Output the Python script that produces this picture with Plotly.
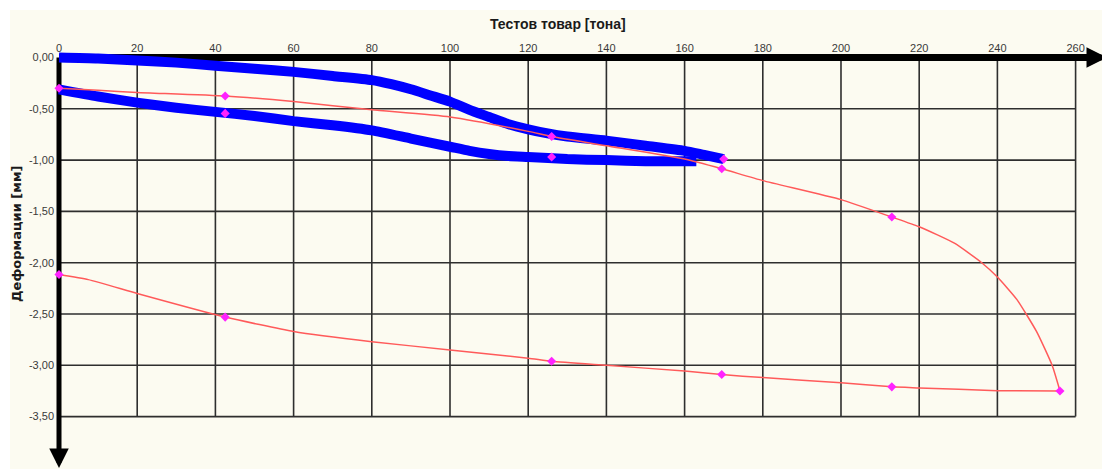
import plotly.graph_objects as go

# ---------------- data ----------------
x_ticks = [0, 20, 40, 60, 80, 100, 120, 140, 160, 180, 200, 220, 240, 260]
x_tick_labels = [str(v) for v in x_ticks]
y_ticks = [0.0, -0.5, -1.0, -1.5, -2.0, -2.5, -3.0, -3.5]
y_tick_labels = ["0,00", "-0,50", "-1,00", "-1,50", "-2,00", "-2,50", "-3,00", "-3,50"]

# loading branch (blue, upper)
load_x = [0, 10, 20, 30, 40, 50, 60, 70, 80, 85, 90, 95, 100, 105, 110, 115, 120, 125, 130, 140, 150, 160, 165, 170]
load_y = [0.0, -0.01, -0.03, -0.05, -0.08, -0.11, -0.14, -0.18, -0.22, -0.26, -0.31, -0.37, -0.43, -0.51,
          -0.58, -0.65, -0.70, -0.74, -0.77, -0.81, -0.86, -0.91, -0.95, -0.99]

# unloading branch (blue, lower)
unload_x = [163, 160, 150, 140, 130, 120, 115, 110, 105, 100, 90, 80, 70, 60, 50, 40, 30, 20, 10, 0]
unload_y = [-1.01, -1.01, -1.01, -1.0, -0.99, -0.97, -0.96, -0.94, -0.91, -0.87, -0.79, -0.71, -0.66,
            -0.62, -0.57, -0.53, -0.49, -0.44, -0.38, -0.31]

# red upper curve
red_up_x = [0, 10, 20, 42.5, 60, 80, 100, 120, 126, 140, 160, 169.5, 180, 200, 213, 220, 229, 236, 240, 245, 250, 254, 256]
red_up_y = [-0.30, -0.32, -0.34, -0.375, -0.43, -0.51, -0.58, -0.72, -0.77, -0.86, -0.99, -1.085, -1.20,
            -1.385, -1.555, -1.65, -1.81, -2.0, -2.14, -2.36, -2.67, -3.0, -3.25]

# red lower curve
red_lo_x = [0, 7.5, 20, 42.5, 60, 80, 100, 120, 126, 140, 160, 169.5, 180, 200, 213, 220, 240, 256]
red_lo_y = [-2.115, -2.165, -2.30, -2.53, -2.67, -2.77, -2.85, -2.93, -2.96, -3.0, -3.056, -3.09, -3.12,
            -3.17, -3.21, -3.22, -3.247, -3.25]

# measured points (magenta diamonds)
pts_up_x = [0, 42.5, 126, 169.5, 213, 256]
pts_up_y = [-0.30, -0.375, -0.77, -1.085, -1.555, -3.25]
pts_lo_x = [0, 42.5, 126, 169.5, 213]
pts_lo_y = [-2.115, -2.53, -2.96, -3.09, -3.21]
pts_blue_x = [42.5, 126, 170]
pts_blue_y = [-0.545, -0.97, -0.99]

x_title = "Тестов товар [тона]"
y_title = "Деформации [мм]"

# ---------------- layout geometry ----------------
OFF = 8                      # default page margin of the html body
W, H = 1110 - OFF, 469 - OFF
ML, MR, MT, MB = 53 - OFF, 0, 52 - OFF, 0
PW, PH = W - ML - MR, H - MT - MB
X_RANGE = [-1.535, 268.8]
Y_RANGE = [-4.0106, 0.0536]
CREAM = "#FCFBF1"
GRID = "#2e2e2e"


def px_to_paper_x(px):
    return (px - OFF - ML) / PW


def py_to_paper_y(py):
    return (H - MB - (py - OFF)) / PH


fig = go.Figure()

fig.add_trace(go.Scatter(x=load_x, y=load_y, mode="lines",
                         line=dict(color="#0000FF", width=10, shape="spline", smoothing=0.6),
                         showlegend=False, hoverinfo="skip"))
fig.add_trace(go.Scatter(x=unload_x, y=unload_y, mode="lines",
                         line=dict(color="#0000FF", width=10, shape="spline", smoothing=0.6),
                         showlegend=False, hoverinfo="skip"))
fig.add_trace(go.Scatter(x=red_up_x, y=red_up_y, mode="lines",
                         line=dict(color="#FF5A5A", width=1.5, shape="spline", smoothing=0.5),
                         showlegend=False))
fig.add_trace(go.Scatter(x=red_lo_x, y=red_lo_y, mode="lines",
                         line=dict(color="#FF5A5A", width=1.5, shape="spline", smoothing=0.5),
                         showlegend=False))
for mx, my in [(pts_up_x, pts_up_y), (pts_lo_x, pts_lo_y), (pts_blue_x, pts_blue_y)]:
    fig.add_trace(go.Scatter(x=mx, y=my, mode="markers",
                             marker=dict(symbol="diamond", size=7, color="#FF22FF"),
                             showlegend=False))

shapes = []
# cream background panel
shapes.append(dict(type="rect", xref="paper", yref="paper",
                   x0=px_to_paper_x(10), x1=1.01,
                   y0=-0.01, y1=py_to_paper_y(10),
                   fillcolor=CREAM, line=dict(width=0), layer="below"))
# grid
for xv in x_ticks[1:]:
    shapes.append(dict(type="line", xref="x", yref="y", x0=xv, x1=xv, y0=y_ticks[0], y1=y_ticks[-1],
                       line=dict(color=GRID, width=1.6), layer="below"))
for yv in y_ticks[1:]:
    shapes.append(dict(type="line", xref="x", yref="y", x0=x_ticks[0], x1=x_ticks[-1], y0=yv, y1=yv,
                       line=dict(color=GRID, width=1.6), layer="below"))
# thick axis shafts
shapes.append(dict(type="line", xref="x", yref="y", x0=x_ticks[0], x1=265, y0=0, y1=0,
                   line=dict(color="black", width=7), layer="below"))
shapes.append(dict(type="line", xref="x", yref="y", x0=0, x1=0, y0=0, y1=-3.85,
                   line=dict(color="black", width=5), layer="below"))

annotations = [
    # arrow heads
    dict(x=268.0, y=0, ax=264, ay=0, xref="x", yref="y", axref="x", ayref="y",
         text="", showarrow=True, arrowhead=2, arrowsize=0.68, arrowwidth=6, arrowcolor="black", standoff=0),
    dict(x=0, y=-4.0, ax=0, ay=-3.8, xref="x", yref="y", axref="x", ayref="y",
         text="", showarrow=True, arrowhead=2, arrowsize=0.78, arrowwidth=5, arrowcolor="black", standoff=0),
    # titles
    dict(x=px_to_paper_x(557.5), y=py_to_paper_y(24), xref="paper", yref="paper",
         text="<b>" + x_title + "</b>", showarrow=False, xanchor="center", yanchor="middle",
         font=dict(family="Liberation Sans Narrow, Liberation Sans, Arial", size=14, color="#1a1a1a")),
    dict(x=px_to_paper_x(17), y=py_to_paper_y(234), xref="paper", yref="paper",
         text="<b>" + y_title + "</b>", showarrow=False, textangle=-90, xanchor="center", yanchor="middle",
         font=dict(family="DejaVu Sans, Liberation Sans, Arial", size=13, color="#1a1a1a")),
]

fig.update_layout(
    width=W, height=H,
    margin=dict(l=ML, r=MR, t=MT, b=MB, pad=0, autoexpand=False),
    paper_bgcolor="white", plot_bgcolor=CREAM,
    shapes=shapes, annotations=annotations,
    font=dict(family="Liberation Sans, Arial", size=11, color="#3a3a3a"),
    xaxis=dict(range=X_RANGE, side="top", tickvals=x_ticks, ticktext=x_tick_labels,
               showgrid=False, zeroline=False, showline=False, ticks="", ticklabelstandoff=-3,
               automargin=False, tickfont=dict(size=11, color="#3a3a3a")),
    yaxis=dict(range=Y_RANGE, tickvals=y_ticks, ticktext=y_tick_labels,
               showgrid=False, zeroline=False, showline=False, ticks="", ticklabelstandoff=-2,
               automargin=False, tickfont=dict(size=11, color="#3a3a3a")),
)

fig.write_html("out.html")
